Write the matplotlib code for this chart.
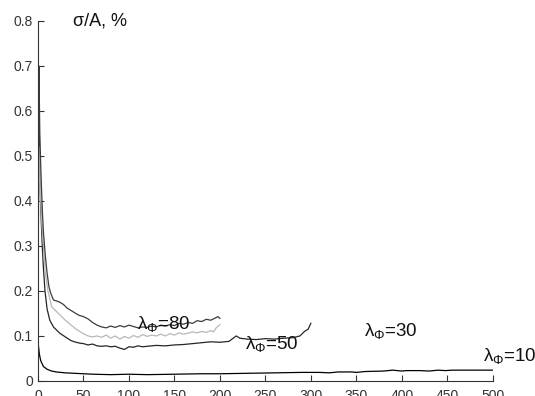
import matplotlib
matplotlib.use("Agg")
import matplotlib.pyplot as plt

plt.rcParams['font.family'] = ['Liberation Sans', 'DejaVu Sans']
plt.rcParams['mathtext.fontset'] = 'custom'
plt.rcParams['mathtext.rm'] = 'Liberation Sans'
plt.rcParams['mathtext.it'] = 'Liberation Sans'

# Upper curve (dark gray, ends at 200)
x_a = [0.5, 1, 2, 3, 4, 5, 6, 8, 10, 12, 14, 17, 20, 24, 28, 32, 36, 40, 45, 50, 55, 60, 65, 70,
       75, 80, 85, 90, 95, 100, 105, 110, 115, 120, 125, 130, 135, 140, 145, 150, 155, 160, 165,
       170, 175, 180, 185, 190, 195, 198, 200]
y_a = [0.45, 0.70, 0.55, 0.48, 0.42, 0.37, 0.33, 0.28, 0.24, 0.21, 0.195, 0.18, 0.178, 0.175, 0.17,
       0.162, 0.157, 0.152, 0.146, 0.143, 0.138, 0.130, 0.124, 0.120, 0.118, 0.122, 0.119, 0.123,
       0.120, 0.124, 0.121, 0.118, 0.120, 0.119, 0.122, 0.120, 0.124, 0.122, 0.125, 0.123, 0.128,
       0.126, 0.130, 0.128, 0.134, 0.132, 0.137, 0.135, 0.140, 0.143, 0.139]

# Light gray curve (ends at 200)
x_b = [0.5, 1.5, 3, 4.5, 6, 8, 11, 15, 20, 24, 30, 36, 42, 50, 55, 60, 65, 70, 75, 80, 85, 90, 95,
       100, 105, 110, 115, 120, 125, 130, 135, 140, 145, 150, 155, 160, 165, 170, 175, 180, 185,
       190, 193, 196, 200]
y_b = [0.35, 0.52, 0.40, 0.34, 0.30, 0.24, 0.20, 0.165, 0.155, 0.147, 0.135, 0.125, 0.115, 0.105,
       0.100, 0.098, 0.100, 0.097, 0.102, 0.095, 0.100, 0.093, 0.099, 0.095, 0.101, 0.097, 0.103,
       0.099, 0.102, 0.100, 0.104, 0.100, 0.105, 0.102, 0.107, 0.104, 0.106, 0.109, 0.107, 0.110,
       0.108, 0.112, 0.109, 0.118, 0.125]

# Dark curve (ends at 300)
x_c = [0.5, 1, 2, 3.5, 4.7, 6, 7.7, 10, 13, 17, 24, 30, 36, 40, 46, 50, 55, 60, 65, 70, 75, 80, 85,
       90, 95, 100, 105, 110, 115, 120, 130, 140, 150, 160, 170, 180, 190, 200, 210, 218, 222, 230,
       240, 250, 260, 270, 280, 288, 293, 297, 300]
y_c = [0.40, 0.66, 0.45, 0.36, 0.30, 0.25, 0.20, 0.16, 0.135, 0.12, 0.106, 0.098, 0.090, 0.087,
       0.084, 0.083, 0.080, 0.082, 0.078, 0.077, 0.078, 0.076, 0.077, 0.073, 0.070, 0.076, 0.075,
       0.078, 0.076, 0.077, 0.079, 0.078, 0.080, 0.081, 0.083, 0.085, 0.087, 0.086, 0.088, 0.100,
       0.095, 0.093, 0.092, 0.094, 0.093, 0.095, 0.096, 0.100, 0.110, 0.115, 0.128]

# Bottom black curve (ends at 500)
x_d = [0, 1.5, 3, 6, 10, 15, 20, 30, 40, 50, 60, 80, 100, 120, 150, 180, 200, 230, 260, 290, 310,
       320, 330, 345, 350, 360, 380, 390, 400, 405, 420, 430, 440, 448, 455, 480, 500]
y_d = [0.087, 0.060, 0.045, 0.032, 0.026, 0.022, 0.020, 0.018, 0.017, 0.016, 0.015, 0.014, 0.015,
       0.014, 0.015, 0.016, 0.016, 0.017, 0.018, 0.019, 0.019, 0.018, 0.020, 0.020, 0.019, 0.021,
       0.022, 0.024, 0.022, 0.023, 0.023, 0.022, 0.024, 0.023, 0.024, 0.024, 0.024]

x_ticks = [0, 50, 100, 150, 200, 250, 300, 350, 400, 450, 500]
y_ticks = [0, 0.1, 0.2, 0.3, 0.4, 0.5, 0.6, 0.7, 0.8]
y_tick_labels = ['0', '0.1', '0.2', '0.3', '0.4', '0.5', '0.6', '0.7', '0.8']

labels = [r'λ$_{\Phi}$=80', r'λ$_{\Phi}$=50', r'λ$_{\Phi}$=30', r'λ$_{\Phi}$=10']
label_x = [109, 228, 358, 489]
label_y = [0.115, 0.071, 0.100, 0.044]

fig = plt.figure(figsize=(5.35, 3.96), dpi=100)
ax = fig.add_axes([0.071, 0.038, 0.850, 0.909])

lw = 0.9
ax.plot(x_d, y_d, color='#000000', lw=lw)
ax.plot(x_c, y_c, color='#262626', lw=lw)
ax.plot(x_b, y_b, color='#b8b8b8', lw=lw)
ax.plot(x_a, y_a, color='#3c3c3c', lw=lw)

for t, lx, ly in zip(labels, label_x, label_y):
    ax.text(lx, ly, t, fontsize=13.5, color='#111111', ha='left', va='baseline')

ax.text(38, 0.791, 'σ/A, %', fontsize=13, color='#111111', ha='left', va='baseline')

ax.set_xlim(0, 500)
ax.set_ylim(0, 0.8)
ax.set_xticks(x_ticks)
ax.set_xticklabels([str(v) for v in x_ticks])
ax.set_yticks(y_ticks)
ax.set_yticklabels(y_tick_labels)
ax.tick_params(direction='in', length=4, width=0.8, labelsize=10, colors='#333333')
ax.tick_params(axis='x', pad=5.5)
ax.tick_params(axis='y', pad=3.5)
ax.spines['top'].set_visible(False)
ax.spines['right'].set_visible(False)
for s in ('left', 'bottom'):
    ax.spines[s].set_color('#333333')
    ax.spines[s].set_linewidth(0.8)

fig.savefig('out.png', dpi=100)
